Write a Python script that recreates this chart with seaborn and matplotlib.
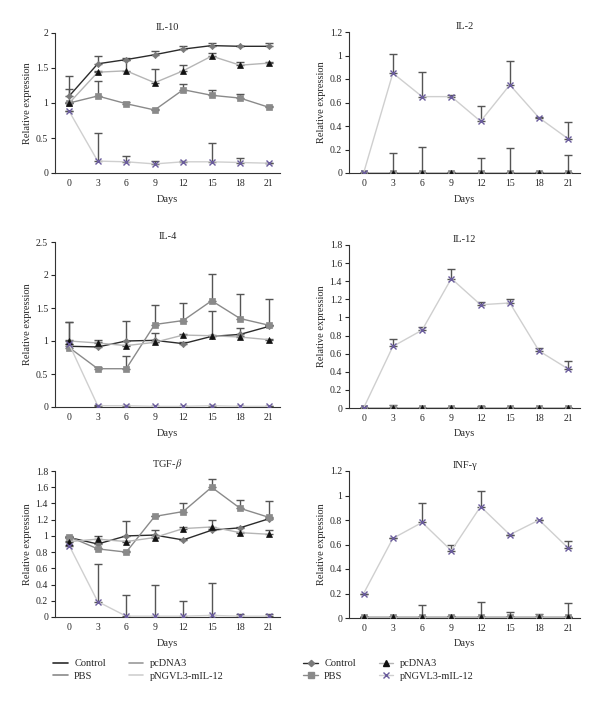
import numpy as np
import pandas as pd
import seaborn as sns
import matplotlib.pyplot as plt
from matplotlib.lines import Line2D
from matplotlib.ticker import FuncFormatter

days = [0, 3, 6, 9, 12, 15, 18, 21]
groups = ["Control", "PBS", "pcDNA3", "pNGVL3-mIL-12"]

# IL-10
il10_control = [1.10, 1.56, 1.62, 1.69, 1.77, 1.82, 1.81, 1.81]
il10_pbs = [1.00, 1.10, 0.99, 0.90, 1.19, 1.11, 1.07, 0.94]
il10_pcdna3 = [1.00, 1.44, 1.46, 1.29, 1.46, 1.67, 1.54, 1.57]
il10_pngvl3 = [0.88, 0.17, 0.16, 0.13, 0.16, 0.16, 0.15, 0.14]
il10_control_err = [0.10, 0.11, 0.02, 0.05, 0.05, 0.04, 0.01, 0.04]
il10_pbs_err = [0.02, 0.22, 0.02, 0.02, 0.08, 0.08, 0.06, 0.01]
il10_pcdna3_err = [0.39, 0.02, 0.16, 0.20, 0.08, 0.04, 0.04, 0.01]
il10_pngvl3_err = [0.01, 0.40, 0.08, 0.04, 0.01, 0.27, 0.06, 0.01]

# IL-2
il2_control = [0, 0, 0, 0, 0, 0, 0, 0]
il2_pbs = [0, 0, 0, 0, 0, 0, 0, 0]
il2_pcdna3 = [0, 0, 0, 0, 0, 0, 0, 0]
il2_pngvl3 = [0.0, 0.85, 0.65, 0.65, 0.44, 0.75, 0.47, 0.29]
il2_control_err = [0.0, 0.17, 0.22, 0.01, 0.13, 0.21, 0.01, 0.15]
il2_pbs_err = [0, 0, 0, 0, 0, 0, 0, 0]
il2_pcdna3_err = [0, 0, 0, 0, 0, 0, 0, 0]
il2_pngvl3_err = [0.0, 0.16, 0.21, 0.01, 0.13, 0.20, 0.01, 0.14]

# IL-4
il4_control = [0.92, 0.91, 1.00, 1.01, 0.96, 1.07, 1.10, 1.22]
il4_pbs = [0.90, 0.58, 0.58, 1.25, 1.31, 1.61, 1.34, 1.24]
il4_pcdna3 = [1.00, 0.97, 0.93, 0.98, 1.09, 1.08, 1.06, 1.02]
il4_pngvl3 = [0.95, 0.02, 0.02, 0.01, 0.01, 0.02, 0.01, 0.01]
il4_control_err = [0.37, 0.10, 0.30, 0.11, 0.02, 0.39, 0.09, 0.02]
il4_pbs_err = [0.39, 0.02, 0.19, 0.29, 0.26, 0.40, 0.37, 0.40]
il4_pcdna3_err = [0.01, 0.01, 0.01, 0.01, 0.01, 0.01, 0.01, 0.01]
il4_pngvl3_err = [0.01, 0.01, 0.01, 0.01, 0.01, 0.01, 0.01, 0.01]

# IL-12
il12_control = [0, 0, 0, 0, 0, 0, 0, 0]
il12_pbs = [0, 0, 0, 0, 0, 0, 0, 0]
il12_pcdna3 = [0, 0, 0, 0, 0, 0, 0, 0]
il12_pngvl3 = [0.0, 0.68, 0.86, 1.43, 1.14, 1.16, 0.63, 0.43]
il12_control_err = [0.0, 0.03, 0.0, 0.0, 0.02, 0.0, 0.0, 0.0]
il12_pbs_err = [0, 0, 0, 0, 0, 0, 0, 0]
il12_pcdna3_err = [0, 0, 0, 0, 0, 0, 0, 0]
il12_pngvl3_err = [0.0, 0.08, 0.04, 0.11, 0.03, 0.04, 0.03, 0.09]

# TGF-beta
tgf_control = [0.98, 0.90, 1.00, 1.01, 0.95, 1.07, 1.10, 1.21]
tgf_pbs = [0.99, 0.84, 0.80, 1.24, 1.30, 1.60, 1.34, 1.23]
tgf_pcdna3 = [0.93, 0.96, 0.93, 0.98, 1.09, 1.11, 1.04, 1.02]
tgf_pngvl3 = [0.88, 0.19, 0.01, 0.01, 0.01, 0.02, 0.01, 0.01]
tgf_control_err = [0.01, 0.01, 0.18, 0.06, 0.01, 0.01, 0.01, 0.01]
tgf_pbs_err = [0.01, 0.01, 0.01, 0.01, 0.10, 0.10, 0.10, 0.20]
tgf_pcdna3_err = [0.01, 0.04, 0.01, 0.01, 0.02, 0.09, 0.01, 0.05]
tgf_pngvl3_err = [0.01, 0.46, 0.26, 0.38, 0.19, 0.40, 0.03, 0.03]

# INF-gamma
inf_control = [0.01, 0.01, 0.01, 0.01, 0.01, 0.01, 0.01, 0.01]
inf_pbs = [0.01, 0.01, 0.01, 0.01, 0.01, 0.01, 0.01, 0.01]
inf_pcdna3 = [0.01, 0.01, 0.01, 0.01, 0.01, 0.01, 0.01, 0.01]
inf_pngvl3 = [0.20, 0.65, 0.78, 0.55, 0.91, 0.68, 0.80, 0.57]
inf_control_err = [0.0, 0.0, 0.10, 0.01, 0.12, 0.04, 0.02, 0.11]
inf_pbs_err = [0, 0, 0, 0, 0, 0, 0, 0]
inf_pcdna3_err = [0, 0, 0, 0, 0, 0, 0, 0]
inf_pngvl3_err = [0.0, 0.0, 0.16, 0.05, 0.13, 0.0, 0.0, 0.06]

panels = [
    ("IL-10", [il10_control, il10_pbs, il10_pcdna3, il10_pngvl3],
     [il10_control_err, il10_pbs_err, il10_pcdna3_err, il10_pngvl3_err], 2.0, 0.5),
    ("IL-2", [il2_control, il2_pbs, il2_pcdna3, il2_pngvl3],
     [il2_control_err, il2_pbs_err, il2_pcdna3_err, il2_pngvl3_err], 1.2, 0.2),
    ("IL-4", [il4_control, il4_pbs, il4_pcdna3, il4_pngvl3],
     [il4_control_err, il4_pbs_err, il4_pcdna3_err, il4_pngvl3_err], 2.5, 0.5),
    ("IL-12", [il12_control, il12_pbs, il12_pcdna3, il12_pngvl3],
     [il12_control_err, il12_pbs_err, il12_pcdna3_err, il12_pngvl3_err], 1.8, 0.2),
    (r"TGF-$\beta$", [tgf_control, tgf_pbs, tgf_pcdna3, tgf_pngvl3],
     [tgf_control_err, tgf_pbs_err, tgf_pcdna3_err, tgf_pngvl3_err], 1.8, 0.2),
    ("INF-\u03b3", [inf_control, inf_pbs, inf_pcdna3, inf_pngvl3],
     [inf_control_err, inf_pbs_err, inf_pcdna3_err, inf_pngvl3_err], 1.2, 0.2),
]

line_colors = ["#2b2b2b", "#8a8a8a", "#b5b5b5", "#cfcfcf"]
marker_colors = ["#7a7a7a", "#8a8a8a", "#111111", "#6a5c9c"]
markers = ["D", "s", "^", "x"]
msizes = [3.2, 4.5, 4.2, 4.5]

sns.set_theme(style="ticks")
plt.rcParams["font.family"] = ["Liberation Serif", "DejaVu Serif"]
plt.rcParams["mathtext.fontset"] = "stix"

fig = plt.figure(figsize=(6, 7.03), dpi=100)
H = 703.0
boxes = [
    (55, 33, 280, 173), (349, 32, 580, 173),
    (55, 242, 280, 407), (349, 245, 580, 408),
    (55, 471, 280, 617), (349, 471, 580, 618),
]

fmt = FuncFormatter(lambda v, p: f"{v:g}")

for (title, means, errs, ymax, step), (x0, y0, x1, y1) in zip(panels, boxes):
    ax = fig.add_axes([x0 / 600, 1 - y1 / H, (x1 - x0) / 600, (y1 - y0) / H])
    for i, g in enumerate(groups):
        df = pd.DataFrame({"day": days, "val": means[i]})
        sns.lineplot(data=df, x="day", y="val", ax=ax, color=line_colors[i],
                     lw=1.0, marker=markers[i], markersize=msizes[i],
                     markerfacecolor=marker_colors[i], markeredgecolor=marker_colors[i],
                     markeredgewidth=1.0 if markers[i] == "x" else 0.5, zorder=3)
        ax.errorbar(days, means[i], yerr=[np.zeros(8), errs[i]], fmt="none",
                    ecolor="#555555", elinewidth=1.0, capsize=3, capthick=1.0, zorder=2)
    ax.set_xlim(-1.5, 22.2)
    ax.set_ylim(0, ymax)
    ax.set_xticks(days)
    ax.set_yticks(np.arange(0, ymax + 1e-6, step))
    ax.yaxis.set_major_formatter(fmt)
    ax.tick_params(axis="x", length=0, labelsize=7, pad=4)
    ax.tick_params(axis="y", length=3, width=0.8, labelsize=7, pad=2)
    sns.despine(ax=ax)
    for s in ["left", "bottom"]:
        ax.spines[s].set_linewidth(0.8)
        ax.spines[s].set_color("#333333")
    ax.set_title(title, fontsize=7.5, pad=2)
    ax.set_xlabel("Days", fontsize=7.5, labelpad=5)
    ax.set_ylabel("Relative expression", fontsize=7.5, labelpad=3)

left_handles = [Line2D([], [], color=c, lw=1.2) for c in ["#2b2b2b", "#8a8a8a", "#9a9a9a", "#cfcfcf"]]
right_handles = [Line2D([], [], color=line_colors[i], lw=1.0, marker=markers[i],
                        markersize=msizes[i], markerfacecolor=marker_colors[i],
                        markeredgecolor=marker_colors[i]) for i in range(4)]
leg_kw = dict(ncol=2, frameon=False, fontsize=7.5, handlelength=1.4, handletextpad=0.6,
              columnspacing=2.2, labelspacing=0.3)
fig.legend(left_handles, groups, loc="center left", bbox_to_anchor=(44 / 600, 1 - 670 / H),
           **leg_kw)
fig.legend(right_handles, groups, loc="center left", bbox_to_anchor=(294 / 600, 1 - 670 / H),
           **leg_kw)

fig.savefig("out.png", dpi=100)
